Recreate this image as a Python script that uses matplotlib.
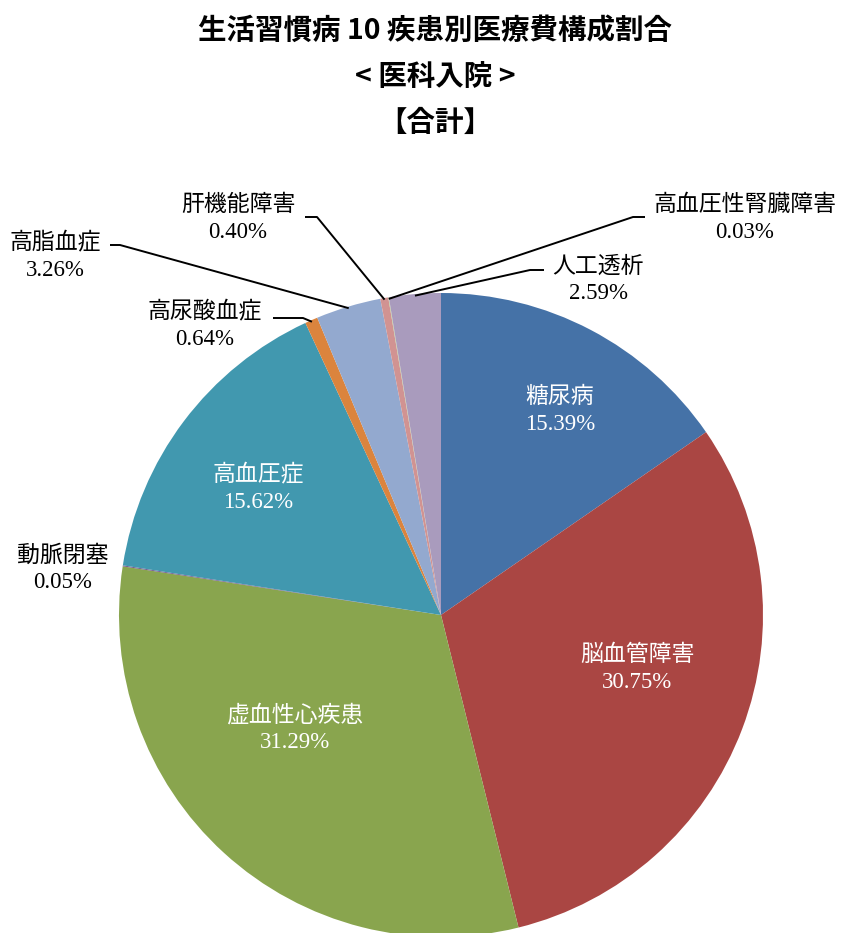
import matplotlib
matplotlib.use("Agg")
import matplotlib.pyplot as plt
import numpy as np

categories = ["糖尿病", "脳血管障害", "虚血性心疾患", "動脈閉塞", "高血圧症",
              "高尿酸血症", "高脂血症", "肝機能障害", "高血圧性腎臓障害", "人工透析"]
values = [15.39, 30.75, 31.29, 0.05, 15.62, 0.64, 3.26, 0.40, 0.03, 2.59]
value_labels = ["15.39%", "30.75%", "31.29%", "0.05%", "15.62%",
                "0.64%", "3.26%", "0.40%", "0.03%", "2.59%"]
colors = ["#4572A7", "#AA4643", "#89A54E", "#71588F", "#4198AF",
          "#DB843D", "#93A9CF", "#D19392", "#B9CD96", "#A99BBD"]

W, H = 842, 933
fig = plt.figure(figsize=(W / 100, H / 100), dpi=100)

cx, cy, R = 441, 615, 322
ax = fig.add_axes([(cx - R) / W, (H - cy - R) / H, 2 * R / W, 2 * R / H])
ax.set_xlim(-1, 1)
ax.set_ylim(-1, 1)
ax.set_aspect("equal")
ax.axis("off")

wedges, _ = ax.pie(values, colors=colors, startangle=90, counterclock=False,
                   radius=1.0, wedgeprops=dict(linewidth=0))
ax.set_xlim(-1, 1)
ax.set_ylim(-1, 1)

fam = ["Liberation Serif", "Noto Sans CJK JP"]
fs = 16.5


def p2d(px, py):
    return ((px - cx) / R, (cy - py) / R)


def mid_point(i, r=1.0):
    w = wedges[i]
    a = np.deg2rad((w.theta1 + w.theta2) / 2)
    return (r * np.cos(a), r * np.sin(a))


def label(x, y, i, color):
    ax.text(x, y, categories[i] + "\n" + value_labels[i], color=color,
            ha="center", va="center", fontsize=fs, family=fam,
            linespacing=1.35, clip_on=False)


# inside labels (white)
inside = {0: (560, 411), 1: (637, 669), 2: (295, 729), 4: (258, 489)}
for i, (px, py) in inside.items():
    label(*p2d(px, py), i, "white")

# outside labels: text center, leader elbow points (pixel coords)
outside = {
    7: ((238, 219), [(305, 217), (317, 217)]),
    6: ((55, 257), [(110, 245), (120, 245)]),
    5: ((205, 326), [(273, 318), (303, 318)]),
    3: ((63, 569), None),
    8: ((745, 219), [(645, 217), (633, 217)]),
    9: ((598, 280), [(544, 270), (530, 270)]),
}
for i, ((px, py), elbow) in outside.items():
    label(*p2d(px, py), i, "black")
    if elbow:
        pts = [p2d(*elbow[0]), p2d(*elbow[1]), mid_point(i, 0.995)]
        xs, ys = zip(*pts)
        ax.plot(xs, ys, color="black", lw=1.4, clip_on=False,
                solid_capstyle="butt")

tfam = ["Noto Sans CJK JP"]
tfs = 20.5
tx = 435 / W
fig.text(tx, 1 - 31 / H, "生活習慣病 10 疾患別医療費構成割合", ha="center", va="center",
         fontsize=tfs, fontweight="bold", family=tfam)
fig.text(tx, 1 - 77 / H, "< 医科入院 >", ha="center", va="center",
         fontsize=tfs, fontweight="bold", family=tfam)
fig.text(tx, 1 - 123 / H, "【合計】", ha="center", va="center",
         fontsize=tfs, fontweight="bold", family=tfam)

fig.savefig("out.png", dpi=100)
